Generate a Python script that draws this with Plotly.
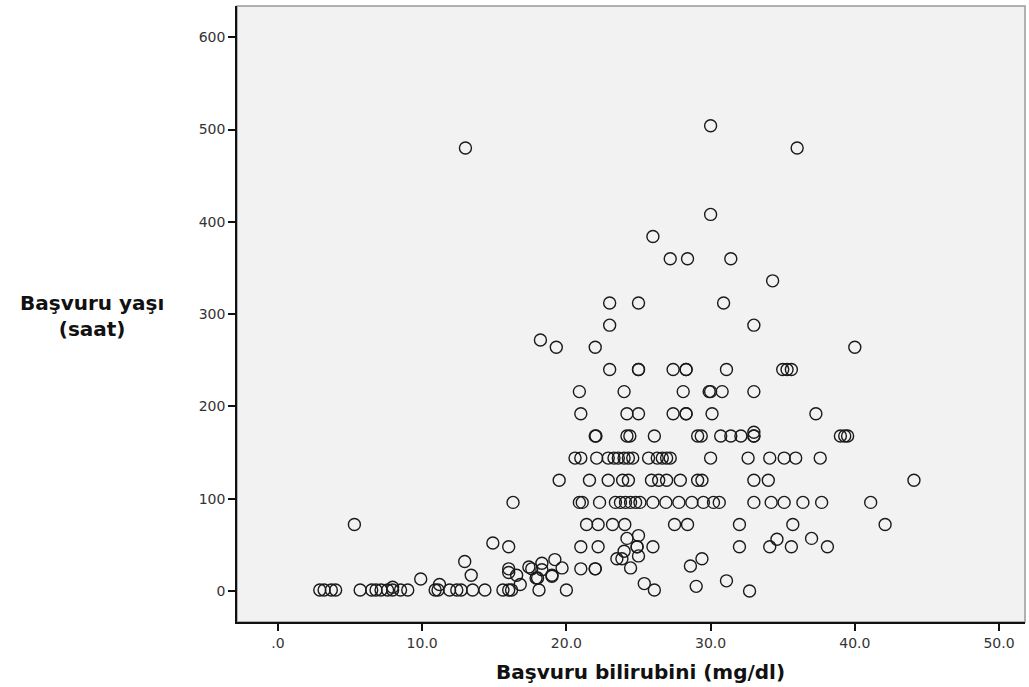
import plotly.graph_objects as go

# Başvuru bilirubini (mg/dl) and Başvuru yaşı (saat)
bilirubin = [
    # upper points
    13.0, 36.0, 30.0, 30.0, 26.0, 27.2, 28.4, 31.4, 34.3, 23.0, 25.0, 30.9, 23.0, 33.0, 18.2, 19.3, 22.0, 40.0,
    # 240
    23.0, 25.0, 25.0, 27.4, 28.3, 28.3, 31.1, 35.0, 35.3, 35.6,
    # 216
    20.9, 24.0, 28.1, 29.9, 30.0, 30.8, 33.0,
    # 192
    21.0, 24.2, 25.0, 27.4, 28.3, 28.3, 30.1, 37.3,
    # 168
    22.0, 22.05, 24.2, 24.4, 26.1, 29.1, 29.35, 30.7, 31.4, 32.1, 33.0, 33.0, 39.0, 39.3, 39.5, 33.0,
    # 144
    20.6, 21.0, 22.1, 22.9, 23.3, 23.6, 24.0, 24.3, 24.6, 25.7, 26.3, 26.65, 26.95, 27.2, 30.0, 32.6, 34.1, 35.1, 35.9, 37.6,
    # 120
    19.5, 21.6, 22.9, 23.9, 24.3, 25.9, 26.4, 26.95, 27.9, 29.1, 29.4, 33.0, 34.0, 44.1,
    # 96
    16.3, 20.9, 21.1, 22.3, 23.4, 23.75, 24.1, 24.45, 24.8, 25.1, 26.0, 26.9, 27.8, 28.7, 29.5, 30.2, 30.6, 33.0, 34.2, 35.1, 36.4, 37.7, 41.1,
    # 72
    5.3, 21.4, 22.2, 23.2, 24.05, 27.5, 28.4, 32.0, 35.7, 42.1,
    # 48
    16.0, 21.0, 22.2, 24.9, 24.9, 26.0, 32.0, 34.1, 35.6, 38.1,
    # 24
    16.0, 21.0, 22.0, 22.0,
    # scattered middle
    14.9, 34.6, 37.0, 24.2, 25.0, 24.0, 23.5, 23.85, 25.0, 24.45, 28.6, 29.4, 25.4, 29.0, 31.1, 32.7, 26.1,
    # scattered low-left
    9.9, 11.2, 12.95, 13.4, 16.0, 16.55, 16.8, 17.4, 17.6, 18.3, 18.3, 19.2, 19.7, 17.9, 18.0, 19.0, 19.0,
    # bottom row
    2.9, 3.2, 3.7, 4.0, 5.7, 6.5, 6.8, 7.15, 7.6, 7.95, 7.95, 8.5, 9.0, 10.9, 11.1, 11.9, 12.4, 12.7, 13.5, 14.35,
    15.6, 16.0, 16.2, 18.1, 20.0,
]
age_hours = [
    480, 480, 504, 408, 384, 360, 360, 360, 336, 312, 312, 312, 288, 288, 272, 264, 264, 264,
    240, 240, 240, 240, 240, 240, 240, 240, 240, 240,
    216, 216, 216, 216, 216, 216, 216,
    192, 192, 192, 192, 192, 192, 192, 192,
    168, 168, 168, 168, 168, 168, 168, 168, 168, 168, 168, 168, 168, 168, 168, 172,
    144, 144, 144, 144, 144, 144, 144, 144, 144, 144, 144, 144, 144, 144, 144, 144, 144, 144, 144, 144,
    120, 120, 120, 120, 120, 120, 120, 120, 120, 120, 120, 120, 120, 120,
    96, 96, 96, 96, 96, 96, 96, 96, 96, 96, 96, 96, 96, 96, 96, 96, 96, 96, 96, 96, 96, 96, 96,
    72, 72, 72, 72, 72, 72, 72, 72, 72, 72,
    48, 48, 48, 48, 48, 48, 48, 48, 48, 48,
    24, 24, 24, 24,
    52, 56, 57, 57, 60, 43, 35, 35, 38, 25, 27, 35, 8, 5, 11, 0, 1,
    13, 7, 32, 17, 20, 17, 7, 26, 24, 30, 23, 34, 25, 14, 14, 17, 16,
    1, 1, 1, 1, 1, 1, 1, 1, 1, 1, 4, 1, 1, 1, 1, 1, 1, 1, 1, 1,
    1, 1, 1, 1, 1,
]

x_ticks = [0, 10, 20, 30, 40, 50]
x_tick_text = [".0", "10.0", "20.0", "30.0", "40.0", "50.0"]
y_ticks = [0, 100, 200, 300, 400, 500, 600]

fig = go.Figure()
fig.add_trace(go.Scatter(
    x=bilirubin, y=age_hours, mode="markers",
    marker=dict(symbol="circle-open", size=12, color="#1a1a1a", line=dict(width=1.4, color="#1a1a1a")),
    showlegend=False, hoverinfo="x+y",
))

tick_font = dict(family="DejaVu Sans", size=14, color="#333333")
title_font = dict(family="DejaVu Sans", size=20, color="#111111")

fig.update_layout(
    width=1029, height=687,
    margin=dict(l=237, r=4, t=6, b=65),
    paper_bgcolor="white",
    plot_bgcolor="#F2F2F2",
    font=dict(family="DejaVu Sans", size=12, color="#333333"),
    xaxis=dict(
        range=[-2.84, 51.8], tickvals=x_ticks, ticktext=x_tick_text,
        showgrid=False, zeroline=False, showline=True, linecolor="#111111", linewidth=1.5,
        ticks="outside", ticklen=7, tickwidth=1.5, tickcolor="#111111",
        tickfont=tick_font,
    ),
    yaxis=dict(
        range=[-33.6, 633.8], tickvals=y_ticks,
        showgrid=False, zeroline=False, showline=True, linecolor="#111111", linewidth=1.5,
        ticks="outside", ticklen=7, tickwidth=1.5, tickcolor="#111111",
        tickfont=tick_font,
    ),
    shapes=[dict(type="rect", xref="paper", yref="paper", x0=0, x1=1, y0=0, y1=1,
                 line=dict(color="#999999", width=1.5), layer="below")],
    annotations=[
        dict(text="<b>Başvuru bilirubini (mg/dl)</b>", xref="paper", yref="paper",
             x=(640 - 237) / 788, y=-(672 - 622) / 616, xanchor="center", yanchor="middle",
             showarrow=False, font=title_font),
        dict(text="<b>Başvuru yaşı<br>(saat)</b>", xref="paper", yref="paper",
             x=(92 - 237) / 788, y=(622 - 316) / 616, xanchor="center", yanchor="middle",
             showarrow=False, font=title_font),
    ],
)

fig.write_html("out.html", post_script="document.body.style.margin='0';",
               config={"displayModeBar": False})
